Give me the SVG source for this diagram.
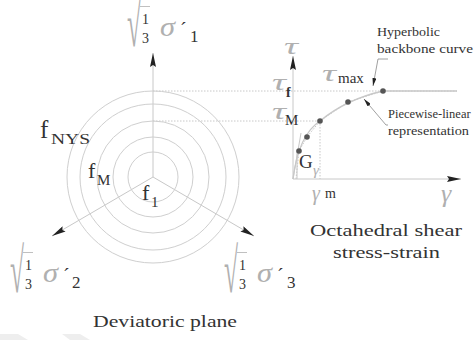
<svg xmlns="http://www.w3.org/2000/svg" width="475" height="340" viewBox="0 0 475 340">
<style>
text{font-family:"Liberation Serif","Times New Roman",serif;fill:#333}
.g{fill:#b0b0b0}
.it{font-style:italic}
.ax{stroke:#c8c8c8;stroke-width:1;fill:none}
.circ{stroke:#cfcfcf;stroke-width:1;fill:none}
.dot{stroke:#c8c8c8;stroke-width:1;stroke-dasharray:1.5 1.5;fill:none}
.pt{fill:#555}
.lead{stroke:#888;stroke-width:0.8;fill:none}
</style>
<defs>
<marker id="ah" markerUnits="userSpaceOnUse" viewBox="0 0 14 6" refX="14" refY="3" markerWidth="14" markerHeight="6" orient="auto">
<path d="M0,0 L14,3 L0,6 L2,3 z" fill="#222"/>
</marker>
<marker id="ahs" markerUnits="userSpaceOnUse" viewBox="0 0 8 4" refX="8" refY="2" markerWidth="8" markerHeight="4" orient="auto">
<path d="M0,0 L8,2 L0,4 z" fill="#222"/>
</marker>
<g id="rad">
<text class="g" x="0" y="0" font-size="30" transform="translate(0,40) scale(0.85,2.1)">√</text>
<line x1="13" y1="0.5" x2="23" y2="0.5" stroke="#b0b0b0" stroke-width="0.8"/>
<text x="15" y="18" font-size="14">1</text>
<text x="15" y="37" font-size="14">3</text>
<text class="g it" x="33" y="30" font-size="28" textLength="15" lengthAdjust="spacingAndGlyphs">σ</text>
<text x="53" y="31" font-size="20">´</text>
</g>
</defs>

<polygon points="0,334 18,334 28,340 0,340" fill="#eeeeee"/>
<polygon points="62,334 80,334 90,340 70,340" fill="#eeeeee"/>

<g id="connectors">
<line class="ax" x1="153" y1="177" x2="153" y2="53" marker-end="url(#ah)"/>
<line class="ax" x1="153" y1="177" x2="52" y2="236" marker-end="url(#ah)"/>
<line class="ax" x1="153" y1="177" x2="254" y2="236" marker-end="url(#ah)"/>
<line class="dot" x1="153" y1="91" x2="457" y2="91"/>
<line class="dot" x1="153" y1="121" x2="320" y2="121"/>
<line class="dot" x1="320" y1="121" x2="320" y2="179"/>
<line class="ax" x1="293" y1="179" x2="293" y2="56" marker-end="url(#ah)"/>
<line class="ax" x1="293" y1="179" x2="461" y2="179" marker-end="url(#ah)"/>
<line class="ax" x1="293" y1="179" x2="301" y2="133"/>
<line class="ax" x1="297" y1="179" x2="297" y2="150"/>
<polyline class="lead" points="388,59 378,59 373,86" marker-end="url(#ahs)"/>
<polyline class="lead" points="388,125 386,125 364,99" marker-end="url(#ahs)"/>
</g>

<g id="deviatoric-plane">
<circle class="circ" cx="153" cy="177" r="86"/>
<circle class="circ" cx="153" cy="177" r="73"/>
<circle class="circ" cx="153" cy="177" r="56"/>
<circle class="circ" cx="153" cy="177" r="40"/>
<circle class="circ" cx="153" cy="177" r="25"/>
</g>

<g id="label-sigma1">
<use href="#rad" x="127" y="6"/>
<text x="190" y="42" font-size="17">1</text>
</g>
<g id="label-sigma2">
<use href="#rad" x="10" y="252"/>
<text x="72" y="288" font-size="17">2</text>
</g>
<g id="label-sigma3">
<use href="#rad" x="224" y="252"/>
<text x="287" y="288" font-size="17">3</text>
</g>

<g id="label-fNYS">
<text x="40" y="138" font-size="25">f</text>
<text x="51" y="144" font-size="15" textLength="39" lengthAdjust="spacingAndGlyphs">NYS</text>
</g>
<g id="label-fM">
<text x="88" y="178" font-size="22">f</text>
<text x="97" y="185" font-size="15">M</text>
</g>
<g id="label-f1">
<text x="142" y="200" font-size="22">f</text>
<text x="151" y="207" font-size="15">1</text>
</g>

<g id="curves">
<path d="M293,179 C296,155 303,132 320,121 C332,111 352,98 383,91 L457,91" stroke="#c8c8c8" stroke-width="1.3" fill="none"/>
<polyline class="dot" points="296,179 299,151 307,137 320,121 348,102 383,91"/>
<circle class="pt" cx="299" cy="151" r="2.8"/>
<circle class="pt" cx="307" cy="137" r="2.8"/>
<circle class="pt" cx="320" cy="121" r="2.8"/>
<circle class="pt" cx="348" cy="102" r="2.8"/>
<circle class="pt" cx="383" cy="91" r="2.8"/>
</g>

<g id="stress-strain-labels">
<text class="g it" x="284" y="54" font-size="24" textLength="14" lengthAdjust="spacingAndGlyphs">τ</text>
<text class="g it" x="272" y="90" font-size="24" textLength="14" lengthAdjust="spacingAndGlyphs">τ</text>
<text x="286" y="97" font-size="14" font-weight="bold">f</text>
<text class="g it" x="272" y="119" font-size="24" textLength="14" lengthAdjust="spacingAndGlyphs">τ</text>
<text x="285" y="125" font-size="15">M</text>
<text class="g it" x="322" y="81" font-size="24" textLength="14" lengthAdjust="spacingAndGlyphs">τ</text>
<text x="338" y="83" font-size="15">max</text>
<text x="299" y="168" font-size="19">G</text>
<text class="g it" x="313" y="175" font-size="15">γ</text>
<text class="g it" x="312" y="200" font-size="20">γ</text>
<text x="325" y="198" font-size="14">m</text>
<text class="g it" x="441" y="202" font-size="26">γ</text>
</g>

<g id="annotations">
<text x="377" y="36" font-size="12.5" textLength="63" lengthAdjust="spacingAndGlyphs">Hyperbolic</text>
<text x="377" y="53" font-size="12.5" textLength="96" lengthAdjust="spacingAndGlyphs">backbone curve</text>
<text x="388" y="118" font-size="12.5">Piecewise-linear</text>
<text x="388" y="135" font-size="12.5" textLength="81" lengthAdjust="spacingAndGlyphs">representation</text>
</g>

<g id="titles">
<text x="310" y="236" font-size="17" textLength="152" lengthAdjust="spacingAndGlyphs">Octahedral shear</text>
<text x="333" y="258" font-size="17" textLength="107" lengthAdjust="spacingAndGlyphs">stress-strain</text>
<text x="93" y="327" font-size="17" textLength="144" lengthAdjust="spacingAndGlyphs">Deviatoric plane</text>
</g>
</svg>
